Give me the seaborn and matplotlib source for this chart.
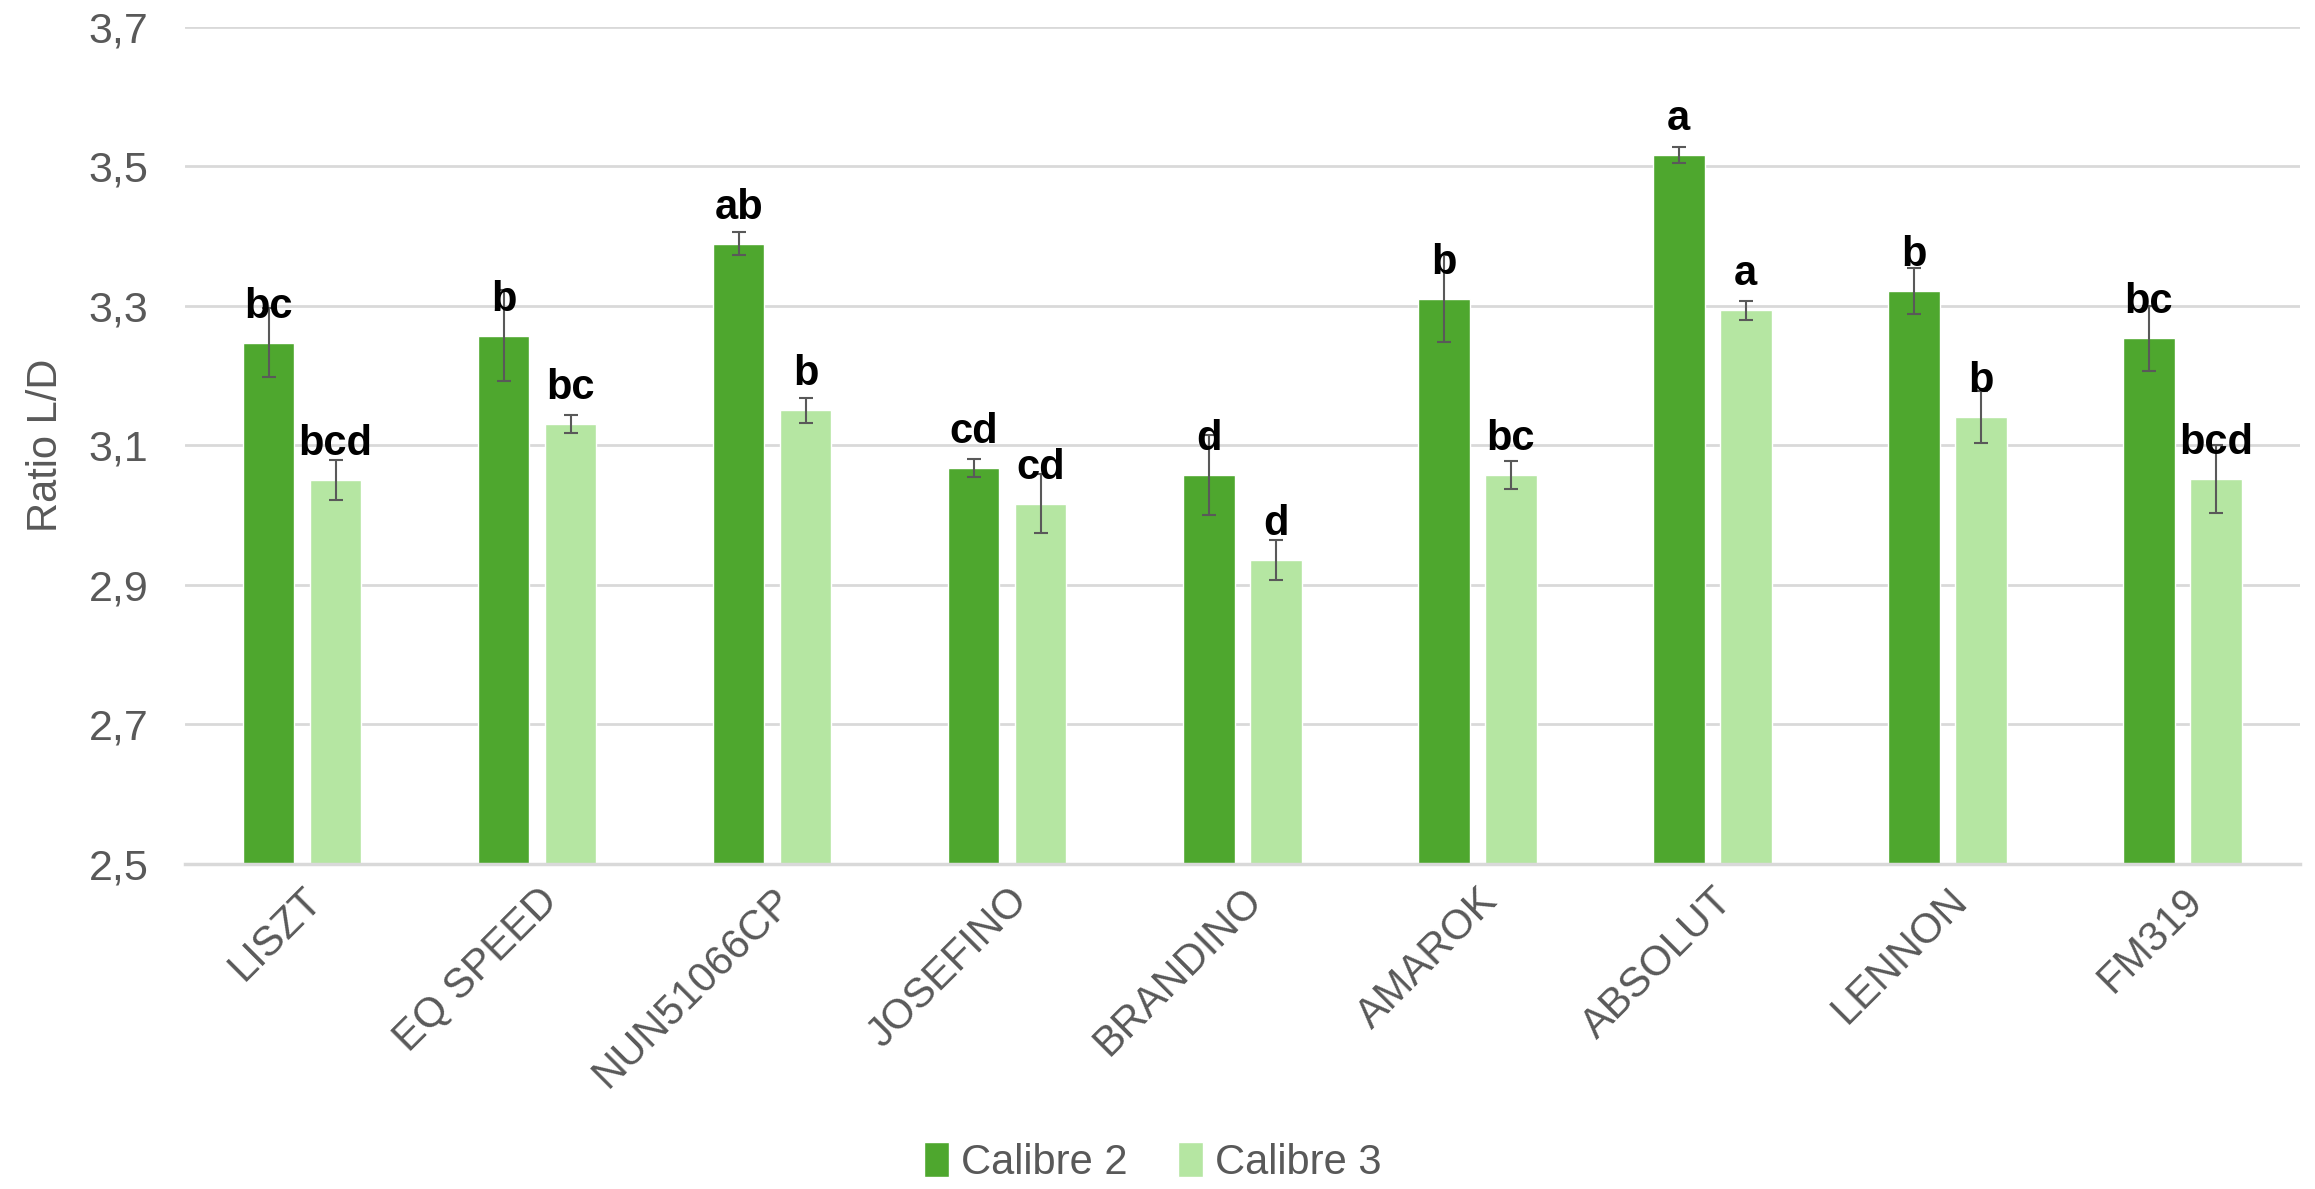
import matplotlib
matplotlib.use("Agg")
import matplotlib.pyplot as plt
from matplotlib.ticker import FuncFormatter
import seaborn as sns
import pandas as pd
import numpy as np

# Data
VARIETIES = ["LISZT", "EQ SPEED", "NUN51066CP", "JOSEFINO", "BRANDINO",
             "AMAROK", "ABSOLUT", "LENNON", "FM319"]
CALIBRES = ["Calibre 2", "Calibre 3"]
CALIBRE_2 = [3.247, 3.257, 3.389, 3.067, 3.057, 3.310, 3.516, 3.321, 3.253]
CALIBRE_3 = [3.050, 3.130, 3.150, 3.016, 2.935, 3.057, 3.293, 3.140, 3.051]
ERR_2 = [0.050, 0.065, 0.016, 0.013, 0.057, 0.062, 0.012, 0.033, 0.047]
ERR_3 = [0.029, 0.013, 0.018, 0.042, 0.029, 0.020, 0.013, 0.037, 0.049]
LETTERS_2 = ["bc", "b", "ab", "cd", "d", "b", "a", "b", "bc"]
LETTERS_3 = ["bcd", "bc", "b", "cd", "d", "bc", "a", "b", "bcd"]

COLORS = ["#4EA72E", "#B5E6A2"]
TEXT_GRAY = "#595959"
GRID_GRAY = "#D9D9D9"

df = pd.DataFrame({
    "Variety": VARIETIES * 2,
    "Ratio": CALIBRE_2 + CALIBRE_3,
    "Calibre": [CALIBRES[0]] * len(VARIETIES) + [CALIBRES[1]] * len(VARIETIES),
})

sns.set_theme(style="white")
plt.rcParams["font.family"] = ["Liberation Sans", "DejaVu Sans"]

fig = plt.figure(figsize=(23.15, 11.89), dpi=100)
ax = fig.add_axes([0.0797, 0.2737, 0.9138, 0.7039])

sns.barplot(data=df, x="Variety", y="Ratio", hue="Calibre", order=VARIETIES,
            hue_order=CALIBRES, palette=COLORS, saturation=1, width=0.57,
            gap=0.23, errorbar=None, ax=ax)

# error bars and significance letters on each bar
for container, errs, letters in zip(ax.containers, [ERR_2, ERR_3], [LETTERS_2, LETTERS_3]):
    for bar, err, letter in zip(container, errs, letters):
        x = bar.get_x() + bar.get_width() / 2
        y = bar.get_height()
        ax.errorbar(x, y, yerr=err, fmt="none", ecolor=TEXT_GRAY, elinewidth=1.5,
                    capsize=5, capthick=1.5, zorder=3)
        ax.annotate(letter, (x, y), xytext=(0, 18), textcoords="offset points",
                    ha="center", va="baseline", fontsize=30, fontweight="bold",
                    color="black", zorder=4)

ax.set_ylim(2.5, 3.7)
ax.set_xlim(-0.5, len(VARIETIES) - 0.5)
ax.set_yticks(np.arange(2.5, 3.71, 0.2))
ax.yaxis.set_major_formatter(FuncFormatter(lambda v, _: f"{v:.1f}".replace(".", ",")))
ax.yaxis.grid(True, color=GRID_GRAY, linewidth=2)
ax.set_axisbelow(True)

for side in ["top", "right", "left"]:
    ax.spines[side].set_visible(False)
ax.spines["bottom"].set_color(GRID_GRAY)
ax.spines["bottom"].set_linewidth(2.5)

ax.tick_params(axis="y", length=0, pad=26, labelsize=31, labelcolor=TEXT_GRAY)
ax.tick_params(axis="x", length=0, pad=12, labelsize=30, labelcolor=TEXT_GRAY)
plt.setp(ax.get_xticklabels(), rotation=45, ha="right", rotation_mode="anchor")

ax.set_xlabel("")
ax.set_ylabel("Ratio L/D", fontsize=30, color=TEXT_GRAY)
ax.yaxis.set_label_coords(-0.056, 0.5)

ax.legend(loc="lower center", bbox_to_anchor=(0.498, -0.009), bbox_transform=fig.transFigure,
          ncol=2, frameon=False, handlelength=0.6, handleheight=0.9, handletextpad=0.3,
          columnspacing=1.2, fontsize=30, labelcolor=TEXT_GRAY, borderaxespad=0)

fig.savefig("out.png", dpi=100)
